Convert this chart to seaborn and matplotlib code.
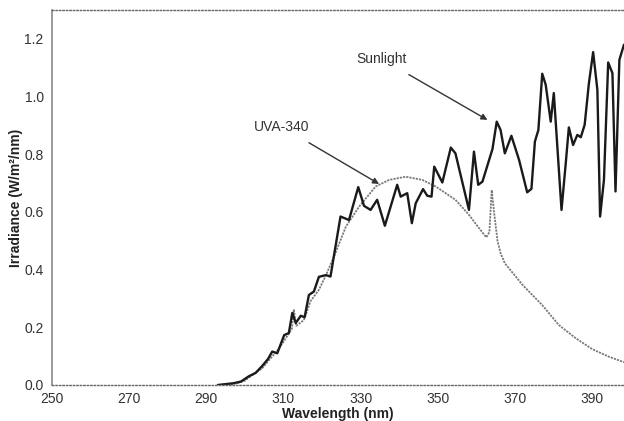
import matplotlib
matplotlib.use("Agg")
import matplotlib.pyplot as plt
import seaborn as sns
import pandas as pd
from matplotlib.ticker import MultipleLocator

# ---------------- data ----------------
sun_wl = [293, 295, 297, 299, 301, 302.8, 304.5, 306, 307.1, 308.4, 310.2, 311.4,
          312.3, 313.2, 314.5, 315.5, 316.6, 317.9, 319.2, 321.0, 322.2, 324.8,
          327.0, 329.4, 330.9, 332.6, 334.3, 336.3, 339.5, 340.4, 342.1, 343.3,
          344.3, 346.2, 347.3, 348.4, 349.1, 351.2, 353.4, 354.6, 358.1, 359.4,
          360.5, 361.6, 364.2, 365.3, 366.3, 367.4, 369.1, 371.1, 373.2, 374.3,
          375.2, 376.1, 377.1, 378.0, 379.3, 380.1, 382.1, 383.2, 384.0, 385.1,
          386.2, 387.1, 388.1, 389.2, 390.3, 391.4, 392.1, 393.1, 394.2, 395.3,
          396.1, 397.1, 398.3]
sun_val = [0.0, 0.003, 0.006, 0.012, 0.03, 0.042, 0.066, 0.09, 0.116, 0.11,
           0.173, 0.18, 0.25, 0.215, 0.24, 0.235, 0.312, 0.324, 0.375, 0.381,
           0.376, 0.584, 0.572, 0.686, 0.621, 0.607, 0.642, 0.552, 0.694, 0.653,
           0.665, 0.561, 0.630, 0.679, 0.656, 0.653, 0.757, 0.702, 0.823, 0.803,
           0.607, 0.809, 0.694, 0.705, 0.818, 0.913, 0.884, 0.803, 0.864, 0.780,
           0.668, 0.680, 0.844, 0.884, 1.079, 1.041, 0.913, 1.012, 0.607, 0.769,
           0.893, 0.832, 0.867, 0.859, 0.902, 1.046, 1.154, 1.023, 0.584, 0.711,
           1.118, 1.081, 0.671, 1.127, 1.18]

lamp_wl = [293, 296, 298, 300, 302, 304.5, 306.5, 308.9, 311, 312.2, 312.7,
           313.3, 315.3, 317, 319.2, 321, 323.1, 326.2, 329.6, 333.9, 337.4,
           341.7, 346.0, 349.5, 354.6, 358.1, 360.7, 362.6, 363.4, 364.0, 364.6,
           365.5, 366.3, 367.4, 372.0, 377.1, 381.4, 385.8, 390.1, 394.4, 398.3]
lamp_val = [0.0, 0.002, 0.006, 0.015, 0.035, 0.058, 0.09, 0.127, 0.17, 0.195,
            0.26, 0.205, 0.225, 0.29, 0.33, 0.38, 0.445, 0.549, 0.618, 0.688,
            0.711, 0.722, 0.711, 0.688, 0.642, 0.590, 0.544, 0.512, 0.53, 0.676,
            0.60, 0.50, 0.457, 0.422, 0.347, 0.277, 0.208, 0.162, 0.124, 0.098,
            0.079]

x_ticks = [250, 270, 290, 310, 330, 350, 370, 390]
y_ticks = [0.0, 0.2, 0.4, 0.6, 0.8, 1.0, 1.2]

sun_label = "Sunlight"
lamp_label = "UVA-340"

# ---------------- plot ----------------
sns.set_style("white")
plt.rcParams["font.family"] = ["Liberation Sans", "DejaVu Sans"]

fig = plt.figure(figsize=(6.24, 4.21), dpi=100)
ax = fig.add_axes([52 / 624, 1 - 385 / 421, 1 - 52 / 624, (385 - 10) / 421])

sun_df = pd.DataFrame({"wl": sun_wl, "val": sun_val})
lamp_df = pd.DataFrame({"wl": lamp_wl, "val": lamp_val})

sns.lineplot(data=lamp_df, x="wl", y="val", ax=ax, color="#7a7a7a",
             linewidth=1.3, linestyle=(0, (1.2, 0.6)), sort=False)
sns.lineplot(data=sun_df, x="wl", y="val", ax=ax, color="#1a1a1a",
             linewidth=1.7, sort=False)

ax.set_xlim(250, 398.3)
ax.set_ylim(0, 1.3)
ax.set_xticks(x_ticks)
ax.set_yticks(y_ticks)
ax.set_yticklabels([f"{v:.1f}" for v in y_ticks])
ax.yaxis.set_minor_locator(MultipleLocator(0.1))
ax.xaxis.set_minor_locator(MultipleLocator(10))
ax.tick_params(axis="both", which="major", direction="in", length=3,
               width=0.8, color="#888888", labelsize=10, labelcolor="#333333")
ax.tick_params(axis="both", which="minor", direction="in", length=2,
               width=0.6, color="#999999")
ax.tick_params(axis="y", which="major", pad=6)
ax.tick_params(axis="x", which="major", pad=5)

for side in ["top", "bottom"]:
    ax.spines[side].set_visible(True)
    ax.spines[side].set_linestyle((0, (1, 1.5)))
    ax.spines[side].set_color("#666666")
    ax.spines[side].set_linewidth(1.0)
ax.spines["left"].set_color("#888888")
ax.spines["left"].set_linewidth(1.2)
ax.spines["right"].set_visible(False)

ax.set_xlabel("Wavelength (nm)", fontsize=10, fontweight="bold",
              color="#222222", labelpad=1)
ax.set_ylabel("Irradiance (W/m²/nm)", fontsize=10, fontweight="bold",
              color="#222222", labelpad=1)

ax.annotate(lamp_label, xy=(334.8, 0.697), xytext=(309.6, 0.895),
            fontsize=10, color="#333333", ha="center", va="center",
            arrowprops=dict(arrowstyle="-|>", color="#333333", lw=1.0,
                            shrinkA=8, shrinkB=0, mutation_scale=9))
ax.annotate(sun_label, xy=(362.9, 0.919), xytext=(335.4, 1.131),
            fontsize=10, color="#333333", ha="center", va="center",
            arrowprops=dict(arrowstyle="-|>", color="#333333", lw=1.0,
                            shrinkA=8, shrinkB=0, mutation_scale=9))

fig.savefig("out.png", dpi=100)
